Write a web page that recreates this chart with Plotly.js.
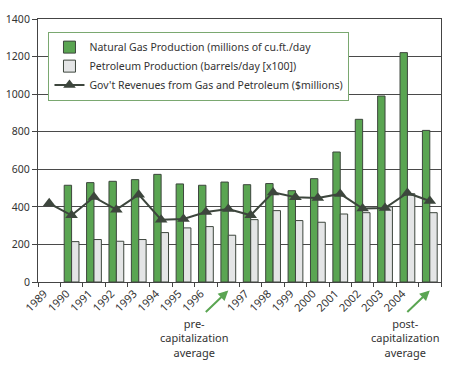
<!DOCTYPE html>
<html>
<head>
<meta charset="utf-8">
<script src="https://cdn.plot.ly/plotly-3.0.1.min.js"></script>
<style>
  html, body { margin: 0; padding: 0; background: #fff; }
  #chart { width: 450px; height: 370px; }
</style>
</head>
<body>
<div id="chart"></div>
<script>
// Categories (two unlabeled "average" slots)
const categories = ['1989','1990','1991','1992','1993','1994','1995','1996','pre-capitalization average',
                    '1997','1998','1999','2000','2001','2002','2003','2004','post-capitalization average'];
const tickLabels = ['1989','1990','1991','1992','1993','1994','1995','1996','',
                    '1997','1998','1999','2000','2001','2002','2003','2004',''];

// Natural Gas Production (millions of cu.ft./day)
const gasProduction = [null, 515, 529, 536, 545, 573, 522, 515, 532, 518, 524, 486, 550, 692, 866, 990, 1221, 807];
// Petroleum Production (barrels/day [x100])
const petroleumProduction = [null, 215, 226, 217, 226, 263, 288, 295, 249, 332, 380, 327, 318, 362, 369, 400, 470, 369];
// Gov't Revenues from Gas and Petroleum ($millions)
const govRevenues = [419, 355, 452, 385, 465, 332, 335, 373, 389, 355, 477, 451, 447, 469, 391, 394, 474, 431];

const FONT = 'Noto Sans, sans-serif';
const green = '#5aa552';
const dark = '#3d463d';

const traces = [
  {
    type: 'bar', name: 'Natural Gas Production (millions of cu.ft./day',
    x: categories, y: gasProduction,
    marker: { color: green, line: { color: dark, width: 1 } }
  },
  {
    type: 'bar', name: 'Petroleum Production (barrels/day [x100])',
    x: categories, y: petroleumProduction,
    marker: { color: '#e4e5e6', line: { color: dark, width: 1 } }
  },
  {
    type: 'scatter', mode: 'lines+markers', name: "Gov't Revenues from Gas and Petroleum ($millions)",
    x: categories, y: govRevenues,
    line: { color: dark, width: 2 },
    marker: { symbol: 'triangle-up', size: 11, color: dark }
  }
];

const layout = {
  width: 450, height: 370,
  margin: { l: 38, r: 9, t: 19, b: 88 },
  paper_bgcolor: '#fff', plot_bgcolor: '#fff',
  font: { family: FONT, size: 11, color: '#333' },
  barmode: 'group', bargap: 0.34, bargroupgap: 0,
  showlegend: true,
  legend: {
    x: 0.026, y: 0.952, xanchor: 'left', yanchor: 'top',
    bgcolor: '#fff', bordercolor: '#7aa870', borderwidth: 1,
    font: { family: FONT, size: 10.5, color: '#333' },
    traceorder: 'normal', tracegroupgap: 0
  },
  xaxis: {
    type: 'category', autorange: false, range: [-0.5, categories.length - 0.5],
    tickmode: 'array', tickvals: categories, ticktext: tickLabels,
    tickson: 'boundaries', ticks: 'outside', ticklen: 4, tickcolor: '#444',
    tickangle: -45, ticklabelshift: -5,
    tickfont: { family: FONT, size: 11, color: '#333' },
    showline: true, linecolor: '#444', linewidth: 1, mirror: true,
    showgrid: false, zeroline: false, fixedrange: true
  },
  yaxis: {
    range: [0, 1400], dtick: 200, tick0: 0,
    ticks: 'outside', ticklen: 5, tickcolor: '#444',
    tickfont: { family: FONT, size: 10.5, color: '#333' },
    showline: true, linecolor: '#444', linewidth: 1, mirror: true,
    showgrid: true, gridcolor: '#4a4a4a', gridwidth: 1,
    zeroline: false, fixedrange: true
  },
  annotations: [
    { xref: 'x', yref: 'paper', x: 'pre-capitalization average', y: -0.032,
      ax: -24, ay: 23, text: '', showarrow: true,
      arrowhead: 2, arrowsize: 1, arrowwidth: 2, arrowcolor: green },
    { xref: 'x', yref: 'paper', x: 'post-capitalization average', y: -0.032,
      ax: -24, ay: 23, text: '', showarrow: true,
      arrowhead: 2, arrowsize: 1, arrowwidth: 2, arrowcolor: green },
    { xref: 'paper', yref: 'paper', x: 0.3876, y: -0.213, xanchor: 'center', yanchor: 'middle',
      text: 'pre-<br>capitalization<br>average', showarrow: false,
      font: { family: FONT, size: 11, color: '#333' } },
    { xref: 'paper', yref: 'paper', x: 0.911, y: -0.213, xanchor: 'center', yanchor: 'middle',
      text: 'post-<br>capitalization<br>average', showarrow: false,
      font: { family: FONT, size: 11, color: '#333' } }
  ]
};

Plotly.newPlot('chart', traces, layout, { displayModeBar: false, staticPlot: true });
</script>
</body>
</html>
